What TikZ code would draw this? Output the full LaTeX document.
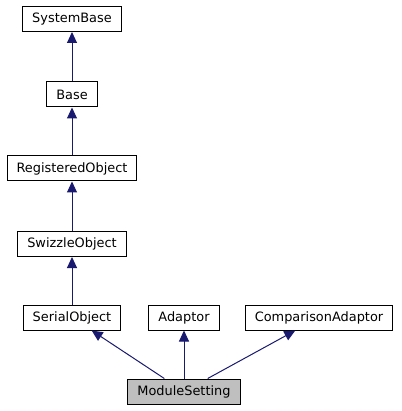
\documentclass[tikz,border=0pt]{standalone}
\usepackage{fontspec}
\setmainfont{DejaVu Sans}
\usetikzlibrary{arrows.meta}
\definecolor{edgeblue}{HTML}{191970}
\definecolor{curgray}{HTML}{BFBFBF}
\tikzset{
  cls/.style={draw=black, line width=1pt, fill=white, minimum height=25pt,
    inner xsep=9.5pt, inner ysep=0pt, font=\fontsize{12.9}{15}\selectfont},
  cur/.style={cls, fill=curgray},
  inh/.style={edgeblue, line width=1pt, {Triangle[length=11pt,width=10pt]}-}
}
\begin{document}
\begin{tikzpicture}[x=1pt,y=-1pt]
  \useasboundingbox (0,0) rectangle (401,411);
  \draw
    (72,19) node[cls] (sysbase){SystemBase}
    (72,94.5) node[cls] (base){Base}
    (72,168.5) node[cls] (regobj){RegisteredObject}
    (72,244) node[cls] (swizzle){SwizzleObject}
    (72,317.5) node[cls] (serial){SerialObject}
    (184,317.5) node[cls] (adaptor){Adaptor}
    (319,317.5) node[cls] (compadaptor){ComparisonAdaptor}
    (184,391.5) node[cur] (modset){ModuleSetting};
  \begin{scope}[inh]
    \draw (sysbase) to (base);
    \draw (base) to (regobj);
    \draw (regobj) to (swizzle);
    \draw (swizzle) to (serial);
    \draw (serial) to (modset);
    \draw (adaptor) to (modset);
    \draw (compadaptor) to (modset);
  \end{scope}
\end{tikzpicture}
\end{document}
